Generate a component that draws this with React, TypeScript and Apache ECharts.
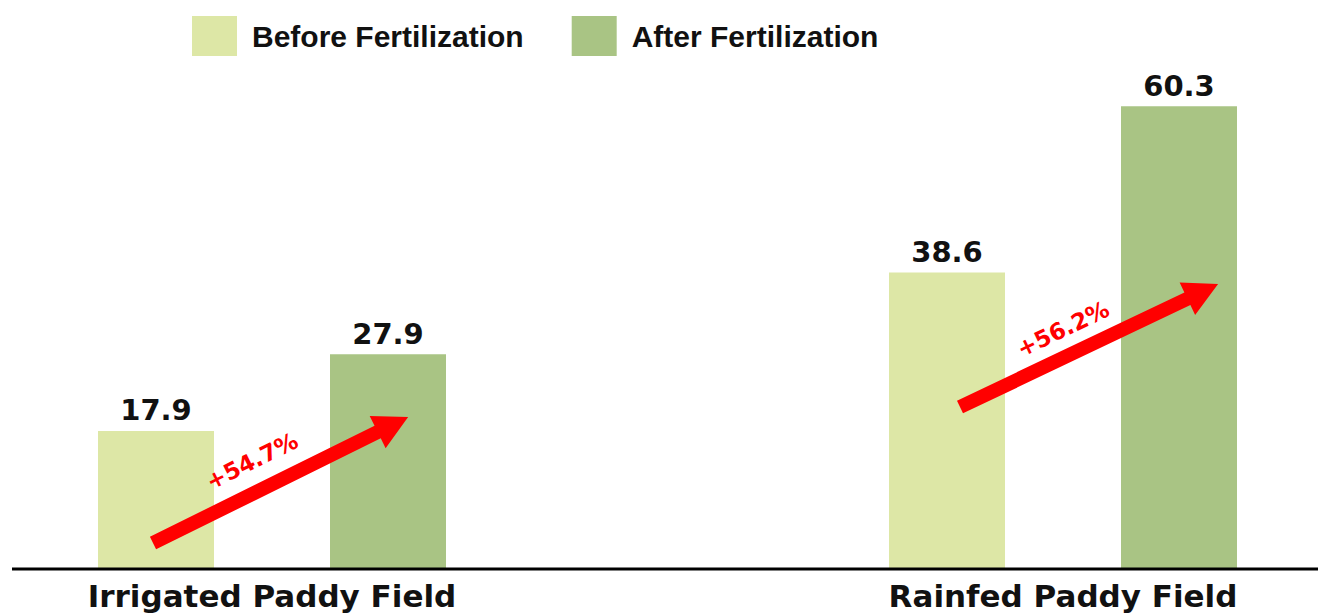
import React, { useEffect, useRef } from "react";
import * as echarts from "echarts";

const categories = ["Irrigated Paddy Field", "Rainfed Paddy Field"];
const seriesNames = ["Before Fertilization", "After Fertilization"];
const beforeValues = [17.9, 38.6];
const afterValues = [27.9, 60.3];
const increaseLabels = ["+54.7%", "+56.2%"];

const BEFORE_COLOR = "#dde7a6";
const AFTER_COLOR = "#a9c484";

function arrow(tx: number, ty: number, hx: number, hy: number) {
  const dx = hx - tx;
  const dy = ty - hy;
  const len = Math.sqrt(dx * dx + dy * dy);
  const ang = Math.atan2(dy, dx);
  const sw = 7;
  const hl = 34;
  const hw = 18;
  return {
    type: "group",
    x: tx,
    y: ty,
    rotation: ang,
    z: 100,
    children: [
      {
        type: "polygon",
        z: 100,
        shape: {
          points: [
            [0, -sw],
            [len - hl, -sw],
            [len - hl, -hw],
            [len, 0],
            [len - hl, hw],
            [len - hl, sw],
            [0, sw],
          ],
        },
        style: { fill: "#ff0000" },
      },
    ],
  };
}

function pctText(text: string, cx: number, cy: number, rot: number) {
  return {
    type: "text",
    x: cx,
    y: cy,
    rotation: rot,
    z: 100,
    style: {
      text,
      fill: "#ff0000",
      font: "bold 23px 'DejaVu Sans'",
      align: "center",
      verticalAlign: "middle",
    },
  };
}

export default function App() {
  const ref = useRef<HTMLDivElement>(null);
  useEffect(() => {
    if (!ref.current) return;
    const chart = echarts.init(ref.current, null, { renderer: "svg" });
    const labelStyle = {
      show: true,
      position: "top",
      distance: 6,
      fontFamily: "DejaVu Sans",
      fontWeight: "bold",
      fontSize: 29,
      color: "#111111",
    };
    chart.setOption({
      animation: false,
      backgroundColor: "#ffffff",
      legend: {
        left: 187,
        top: 11,
        itemWidth: 45,
        itemHeight: 40,
        itemGap: 48,
        icon: "rect",
        data: seriesNames,
        textStyle: {
          fontFamily: "Liberation Sans",
          fontWeight: "bold",
          fontSize: 30,
          color: "#111111",
          padding: [0, 0, 0, 10],
        },
      },
      grid: { left: 272, right: 263, top: 32, bottom: 45 },
      xAxis: {
        type: "category",
        data: categories,
        boundaryGap: false,
        axisLine: { show: false },
        axisTick: { show: false },
        axisLabel: {
          margin: 12,
          fontFamily: "DejaVu Sans",
          fontWeight: "bold",
          fontSize: 31,
          color: "#111111",
        },
      },
      yAxis: {
        type: "value",
        min: 0,
        max: 70,
        show: false,
        splitLine: { show: false },
      },
      series: [
        {
          name: seriesNames[0],
          type: "bar",
          data: beforeValues,
          barWidth: 116,
          barGap: "100%",
          clip: false,
          itemStyle: { color: BEFORE_COLOR },
          label: labelStyle,
        },
        {
          name: seriesNames[1],
          type: "bar",
          data: afterValues,
          barWidth: 116,
          barGap: "100%",
          clip: false,
          itemStyle: { color: AFTER_COLOR },
          label: labelStyle,
        },
      ],
      graphic: [
        {
          type: "line",
          z: 100,
          shape: { x1: 12, y1: 569, x2: 1318, y2: 569 },
          style: { stroke: "#000000", lineWidth: 3 },
        },
        arrow(153, 543, 408, 417),
        arrow(960, 407, 1218, 284),
        pctText(increaseLabels[0], 252, 461, 0.46),
        pctText(increaseLabels[1], 1063, 329, 0.445),
      ],
    });
    return () => chart.dispose();
  }, []);
  return (
    <div
      ref={ref}
      style={{ position: "fixed", left: 0, top: 0, width: 1326, height: 613 }}
    />
  );
}
